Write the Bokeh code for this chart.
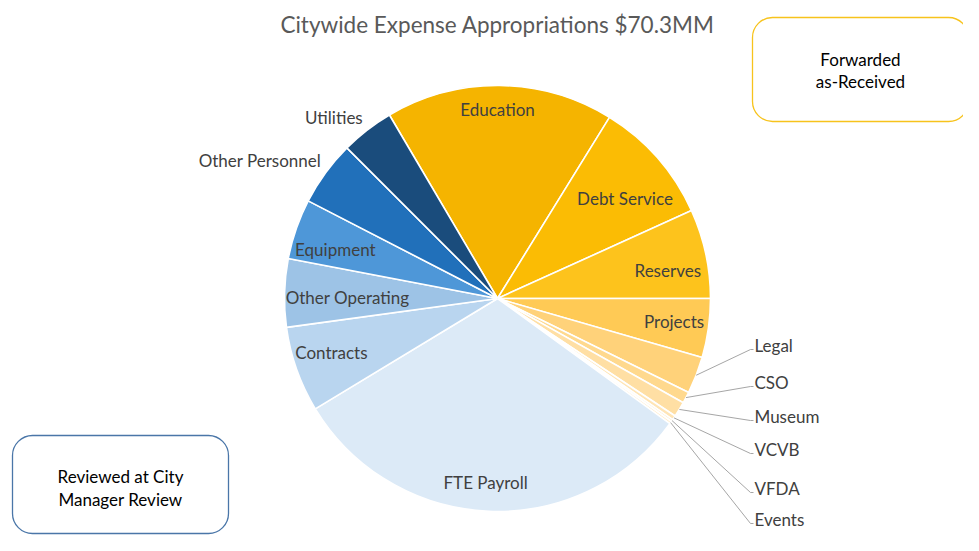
import math
from bokeh.plotting import figure
from bokeh.models import Range1d, ColumnDataSource, BoxAnnotation
from bokeh.core.properties import value
from bokeh.embed import file_html
from bokeh.resources import INLINE

# ---------------- data ----------------
title_text = "Citywide Expense Appropriations $70.3MM"
categories = ["Education", "Debt Service", "Reserves", "Projects", "Legal", "CSO",
              "Museum", "VCVB", "VFDA", "Events", "FTE Payroll", "Contracts",
              "Other Operating", "Equipment", "Other Personnel", "Utilities"]
values = [12.15, 6.62, 4.76, 3.14, 1.97, 0.61, 0.82, 0.23, 0.12, 0.14,
          22.03, 4.57, 3.63, 3.22, 3.46, 2.83]
colors = ["#F5B400", "#FBBC04", "#FDC31C", "#FFCA55", "#FFD27A", "#FFD98E",
          "#FFDFA4", "#FFE5B6", "#FFE9C2", "#FFEDCC", "#DCEAF7", "#B9D5EF",
          "#9DC3E6", "#4E97D8", "#2170BA", "#1A4C7C"]
box_top_text = "Forwarded\nas-Received"
box_bottom_text = "Reviewed at City\nManager Review"

# ---------------- layout / style ----------------
W, H = 963, 535
PAGE_H = 551
cx, cy_page, R = 497, 298, 213
cy = PAGE_H - cy_page
start_deg = -30.5  # clockwise from 12 o'clock

inside = {
    "Education": (0.887, -0.6), "Debt Service": (0.76, 3.3), "Reserves": (0.81, 2.9),
    "Projects": (0.836, -0.6), "FTE Payroll": (0.864, 1.3), "Contracts": (0.82, 1.5),
    "Other Operating": (0.704, -1.1), "Equipment": (0.795, -2.3),
    "Other Personnel": (1.29, -6.0), "Utilities": (1.147, -4.3),
}
leader_y_page = {"Legal": 345, "CSO": 382, "Museum": 416, "VCVB": 449, "VFDA": 488, "Events": 519}
leader_x = 750

p = figure(width=W, height=H, output_backend="svg", toolbar_location=None,
           x_range=Range1d(0, W), y_range=Range1d(PAGE_H - H, PAGE_H),
           min_border=0, outline_line_color=None)
p.axis.visible = False
p.xgrid.visible = False
p.ygrid.visible = False
p.background_fill_color = "white"
p.border_fill_color = "white"

total = sum(values)
starts, ends, mids = [], [], []
acc = start_deg
for v in values:
    sweep = v / total * 360.0
    a1, a2 = acc, acc + sweep
    starts.append(math.radians(90 - a2))
    ends.append(math.radians(90 - a1))
    mids.append((a1 + a2) / 2)
    acc = a2

src = ColumnDataSource(dict(x=[cx] * len(values), y=[cy] * len(values),
                            start=starts, end=ends, color=colors, cat=categories))
p.wedge(x="x", y="y", radius=R, start_angle="start", end_angle="end",
        direction="anticlock", fill_color="color", line_color="white",
        line_width=1.6, source=src)

FONT = "Lato"
FS = "17px"
lx, ly, lt = [], [], []
ox, oy, ot = [], [], []
seg_x, seg_y = [], []
for cat, mid in zip(categories, mids):
    if cat in inside:
        rf, nd = inside[cat]
        a = math.radians(mid + nd)
        lx.append(cx + R * rf * math.sin(a))
        ly.append(cy + R * rf * math.cos(a))
        lt.append(cat)
    elif cat in leader_y_page:
        a = math.radians(mid)
        sx = cx + R * math.sin(a)
        sy = cy + R * math.cos(a)
        ty = PAGE_H - leader_y_page[cat]
        seg_x.append([sx, leader_x, leader_x + 3])
        seg_y.append([sy, ty - 4, ty - 4])
        ox.append(leader_x + 4)
        oy.append(ty)
        ot.append(cat)

p.multi_line(xs=seg_x, ys=seg_y, line_color="#A6A6A6", line_width=1)
p.text(x=lx, y=ly, text=lt, text_font=value(FONT), text_font_size=FS,
       text_color="#404040", text_align="center", text_baseline="middle")
p.text(x=ox, y=oy, text=ot, text_font=value(FONT), text_font_size=FS,
       text_color="#404040", text_align="left", text_baseline="middle")

# title
p.text(x=[497], y=[PAGE_H - 24], text=[title_text], text_font=value(FONT),
       text_font_size="22.5px", text_color="#595959", text_align="center",
       text_baseline="middle")

# rounded boxes
p.add_layout(BoxAnnotation(left=752, right=968, top=PAGE_H - 17, bottom=PAGE_H - 121,
                           fill_color="white", fill_alpha=1.0, line_color="#F7C31C",
                           line_alpha=1.0, line_width=1.3, border_radius=20,
                           level="underlay"))
p.add_layout(BoxAnnotation(left=12, right=228, top=PAGE_H - 435, bottom=PAGE_H - 533,
                           fill_color="white", fill_alpha=1.0, line_color="#4A76A8",
                           line_alpha=1.0, line_width=1.3, border_radius=20,
                           level="underlay"))
tl = box_top_text.split("\n")
p.text(x=[860, 860], y=[PAGE_H - 59, PAGE_H - 81], text=tl, text_font=value(FONT),
       text_font_size=FS, text_color="#000000", text_align="center",
       text_baseline="middle")
bl = box_bottom_text.split("\n")
p.text(x=[120, 120], y=[PAGE_H - 476, PAGE_H - 499], text=bl, text_font=value(FONT),
       text_font_size=FS, text_color="#000000", text_align="center",
       text_baseline="middle")

open("out.html", "w").write(file_html(p, INLINE))
